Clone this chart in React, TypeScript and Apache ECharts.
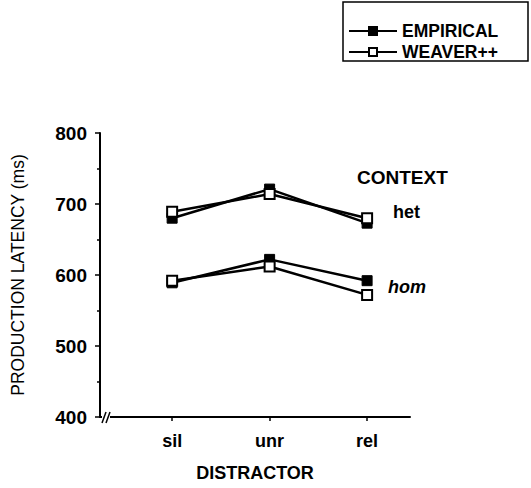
import React, { useEffect, useRef } from "react";
import * as echarts from "echarts";

const categories = ["sil", "unr", "rel"];
const hetEmpirical = [680, 721, 673];
const hetWeaver = [689, 714, 680];
const homEmpirical = [589, 622, 592];
const homWeaver = [592, 612, 572];
const yTicks = [400, 500, 600, 700, 800];

const FONT = "Liberation Sans, Arial, sans-serif";

export default function App() {
  const ref = useRef<HTMLDivElement>(null);
  useEffect(() => {
    if (!ref.current) return;
    const chart = echarts.init(ref.current, undefined, { renderer: "svg" });
    const pts = (arr: number[]) => arr.map((v, i) => [i, v]);
    const emp = {
      type: "line",
      name: "EMPIRICAL",
      symbol: "rect",
      symbolSize: 10,
      lineStyle: { color: "#000", width: 2.5 },
      itemStyle: { color: "#000", borderColor: "#000", borderWidth: 1 },
      z: 3,
    };
    const wea = {
      type: "line",
      name: "WEAVER++",
      symbol: "rect",
      symbolSize: 10,
      lineStyle: { color: "#000", width: 2.5 },
      itemStyle: { color: "#fff", borderColor: "#000", borderWidth: 2 },
      z: 4,
    };
    chart.setOption({
      animation: false,
      backgroundColor: "#fff",
      grid: { left: 100, top: 133, right: 121, bottom: 71 },
      legend: {
        data: ["EMPIRICAL", "WEAVER++"],
        orient: "vertical",
        left: 343,
        top: 17,
        itemWidth: 48,
        itemHeight: 10,
        itemGap: 3,
        textStyle: { fontFamily: FONT, fontSize: 17.5, color: "#000", fontWeight: "bold", lineHeight: 14 },
      },
      xAxis: {
        type: "value",
        min: -0.74,
        max: 2.44,
        splitLine: { show: false },
        axisLine: { onZero: false, lineStyle: { color: "#000", width: 2 } },
        axisTick: { show: true, customValues: [0, 1, 2], length: 4, lineStyle: { color: "#000", width: 1.5 } },
        axisLabel: {
          customValues: [0, 1, 2],
          formatter: (v: number) => categories[Math.round(v)] ?? "",
          fontFamily: FONT,
          fontSize: 18,
          color: "#000",
          fontWeight: "bold",
          margin: 15,
        },
        name: "DISTRACTOR",
        nameLocation: "middle",
        nameGap: 47,
        nameTextStyle: { fontFamily: FONT, fontSize: 18, color: "#000", fontWeight: "bold" },
      },
      yAxis: {
        type: "value",
        min: 400,
        max: 800,
        interval: 100,
        splitLine: { show: false },
        axisLine: { onZero: false, lineStyle: { color: "#000", width: 2 } },
        axisTick: { show: true, length: 5, lineStyle: { color: "#000", width: 1.5 } },
        minorTick: { show: true, splitNumber: 2, length: 3, lineStyle: { color: "#000", width: 1.5 } },
        axisLabel: {
          customValues: yTicks,
          fontFamily: FONT,
          fontSize: 19,
          color: "#000",
          fontWeight: "bold",
          margin: 13,
        },
        name: "PRODUCTION LATENCY (ms)",
        nameLocation: "middle",
        nameGap: 73,
        nameTextStyle: { fontFamily: FONT, fontSize: 17.5, color: "#000" },
      },
      graphic: [
        { type: "rect", shape: { x: 343, y: 2, width: 185, height: 59 }, style: { fill: "none", stroke: "#000", lineWidth: 1.5 } },
        { type: "rect", shape: { x: 102, y: 413, width: 8, height: 8 }, style: { fill: "#fff" }, z: 100 },
        { type: "line", shape: { x1: 102, y1: 423, x2: 106, y2: 412 }, style: { stroke: "#000", lineWidth: 1.5 }, z: 101 },
        { type: "line", shape: { x1: 106, y1: 423, x2: 110, y2: 412 }, style: { stroke: "#000", lineWidth: 1.5 }, z: 101 },
        { type: "text", x: 357, y: 168, style: { text: "CONTEXT", fontFamily: FONT, fontSize: 19, fontWeight: "bold", fill: "#000" } },
        { type: "text", x: 393, y: 203, style: { text: "het", fontFamily: FONT, fontSize: 18, fontWeight: "bold", fill: "#000" } },
        { type: "text", x: 388, y: 278, style: { text: "hom", fontFamily: FONT, fontSize: 18, fontStyle: "italic", fontWeight: "bold", fill: "#000" } },
      ],
      series: [
        { ...emp, data: pts(hetEmpirical) },
        { ...wea, data: pts(hetWeaver) },
        { ...emp, data: pts(homEmpirical) },
        { ...wea, data: pts(homWeaver) },
      ],
    });
    return () => chart.dispose();
  }, []);
  return <div ref={ref} style={{ width: 531, height: 488, position: "absolute", left: 0, top: 0 }} />;
}
